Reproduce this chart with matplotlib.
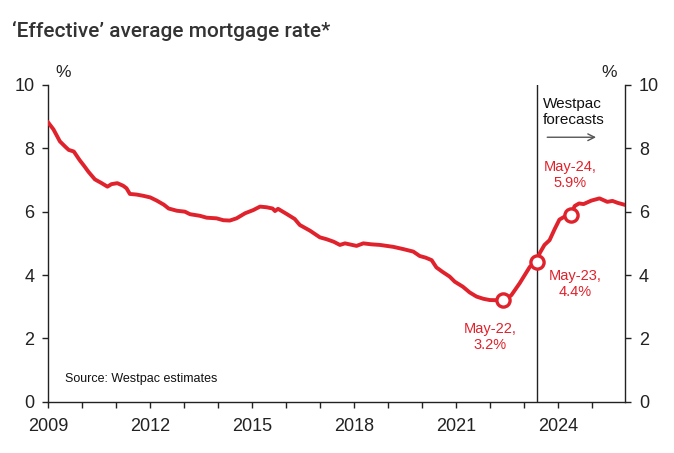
import matplotlib
matplotlib.use("Agg")
import matplotlib.pyplot as plt

# ---------------- data ----------------
years = [2009.0, 2009.15, 2009.34, 2009.5, 2009.6, 2009.75, 2009.92, 2010.05, 2010.18, 2010.37,
         2010.57, 2010.74, 2010.86, 2011.03, 2011.2, 2011.3, 2011.4, 2011.6, 2011.8, 2012.0,
         2012.19, 2012.4, 2012.54, 2012.78, 2013.02, 2013.17, 2013.46, 2013.66, 2013.95, 2014.15,
         2014.34, 2014.54, 2014.79, 2015.03, 2015.23, 2015.42, 2015.6, 2015.67, 2015.76, 2016.01,
         2016.25, 2016.4, 2016.7, 2016.99, 2017.19, 2017.4, 2017.58, 2017.73, 2018.07, 2018.27,
         2018.5, 2018.76, 2019.15, 2019.44, 2019.74, 2019.93, 2020.1, 2020.28, 2020.42, 2020.6,
         2020.81, 2020.96, 2021.2, 2021.4, 2021.6, 2021.8, 2021.99, 2022.37, 2022.5, 2022.63,
         2022.87, 2023.17, 2023.37, 2023.46, 2023.6, 2023.75, 2023.9, 2024.04, 2024.2, 2024.37,
         2024.49, 2024.62, 2024.75, 2024.98, 2025.22, 2025.45, 2025.6, 2025.75, 2025.95]
rates = [8.81, 8.6, 8.22, 8.05, 7.95, 7.9, 7.63, 7.45, 7.26, 7.02,
         6.9, 6.79, 6.87, 6.9, 6.82, 6.74, 6.56, 6.54, 6.5, 6.45,
         6.35, 6.22, 6.1, 6.03, 6.0, 5.92, 5.87, 5.81, 5.79, 5.73,
         5.72, 5.79, 5.95, 6.05, 6.16, 6.14, 6.1, 6.02, 6.09, 5.93,
         5.77, 5.58, 5.4, 5.19, 5.13, 5.05, 4.95, 5.0, 4.92, 5.0,
         4.97, 4.95, 4.89, 4.82, 4.74, 4.6, 4.55, 4.47, 4.24, 4.1,
         3.95, 3.79, 3.63, 3.45, 3.32, 3.25, 3.21, 3.2, 3.25, 3.37,
         3.74, 4.26, 4.42, 4.69, 4.95, 5.1, 5.45, 5.75, 5.85, 5.9,
         6.18, 6.26, 6.24, 6.35, 6.42, 6.31, 6.34, 6.28, 6.22]

marker_years = [2022.37, 2023.37, 2024.37]
marker_rates = [3.2, 4.4, 5.9]
marker_labels = ["May-22,\n3.2%", "May-23,\n4.4%", "May-24,\n5.9%"]

forecast_start = 2023.37
x_ticks = list(range(2009, 2026))
x_labels = ["2009", "2012", "2015", "2018", "2021", "2024"]
y_ticks = [0, 2, 4, 6, 8, 10]

# ---------------- style ----------------
RED = "#e0222c"
plt.rcParams["font.family"] = ["Liberation Sans", "DejaVu Sans"]

fig = plt.figure(figsize=(6.74, 4.53), dpi=100)
ax = fig.add_axes([0.0717, 0.1132, 0.8556, 0.6992])

ax.plot(years, rates, color=RED, lw=2.8, solid_joinstyle="round", zorder=3)
ax.plot(marker_years, marker_rates, ls="none", marker="o", ms=9.5, mfc="white",
        mec=RED, mew=2.4, zorder=4)

ax.axvline(forecast_start, color="#222222", lw=1.0, zorder=2)

ax.set_xlim(2009, 2025.97)
ax.set_ylim(0, 10)

ax.set_xticks(x_ticks)
ax.set_xticklabels([str(t) if str(t) in x_labels else "" for t in x_ticks])
ax.set_yticks(y_ticks)

ax.tick_params(axis="both", labelsize=13, colors="#222222", length=4, width=1.0,
               direction="out")
ax.tick_params(axis="y", which="both", left=True, right=True, labelleft=True,
               labelright=True, pad=6)
ax.tick_params(axis="x", pad=8)

for s in ["left", "right", "bottom"]:
    ax.spines[s].set_color("#222222")
    ax.spines[s].set_linewidth(1.0)
ax.spines["top"].set_visible(False)

# unit labels
ax.text(0.012, 1.015, "%", transform=ax.transAxes, fontsize=12.5, color="#222222",
        ha="left", va="bottom")
ax.text(0.986, 1.015, "%", transform=ax.transAxes, fontsize=12.5, color="#222222",
        ha="right", va="bottom")

# title
fig.text(0.018, 0.932, "\u2018Effective\u2019 average mortgage rate*", fontsize=15,
         fontweight="medium", color="#333333", ha="left", va="center",
         family=["Roboto", "DejaVu Sans"])

# annotations
ax.text(2022.0, 2.05, marker_labels[0], color=RED, fontsize=10.5, ha="center",
        va="center", linespacing=1.15)
ax.text(2024.5, 3.72, marker_labels[1], color=RED, fontsize=10.5, ha="center",
        va="center", linespacing=1.15)
ax.text(2024.35, 7.15, marker_labels[2], color=RED, fontsize=10.5, ha="center",
        va="center", linespacing=1.15)

ax.text(2023.55, 9.15, "Westpac\nforecasts", color="#111111", fontsize=11,
        ha="left", va="center", linespacing=1.2)
ax.annotate("", xy=(2025.2, 8.35), xytext=(2023.6, 8.35),
            arrowprops=dict(arrowstyle="->", color="#555555", lw=1.0,
                            mutation_scale=12))

ax.text(2009.5, 0.72, "Source: Westpac estimates", fontsize=9, color="#111111",
        ha="left", va="center")

fig.savefig("out.png", dpi=100)
